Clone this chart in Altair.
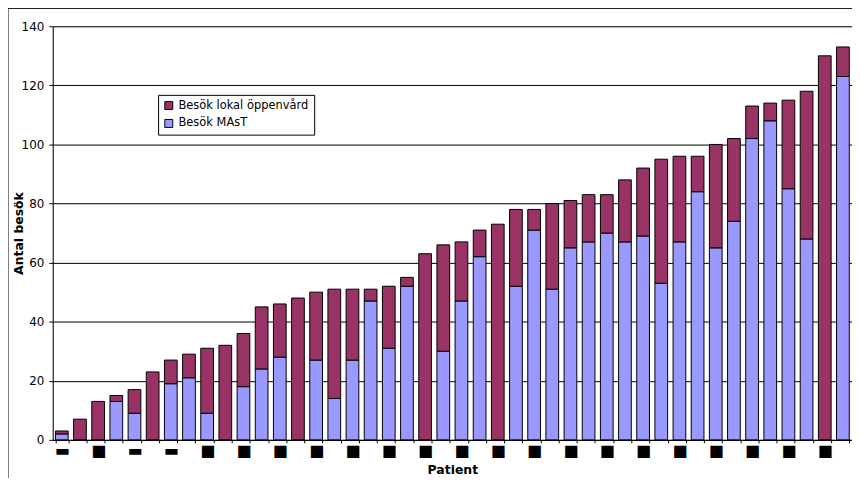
import json
import altair as alt
import pandas as pd

patients = list(range(1, 45))
totals = [3, 7, 13, 15, 17, 23, 27, 29, 31, 32, 36, 45, 46, 48, 50, 51, 51, 51, 52, 55,
          63, 66, 67, 71, 73, 78, 78, 80, 81, 83, 83, 88, 92, 95, 96, 96, 100, 102, 113,
          114, 115, 118, 130, 133]
mast = [2, 0, 0, 13, 9, 0, 19, 21, 9, 0, 18, 24, 28, 0, 27, 14, 27, 47, 31, 52,
        0, 30, 47, 62, 0, 52, 71, 51, 65, 67, 70, 67, 69, 53, 67, 84, 65, 74, 102,
        108, 85, 68, 0, 123]
series_names = ["Besök lokal öppenvård", "Besök MAsT"]
series_colors = ["#993366", "#9999FF"]
# tick labels (redacted blocks) on every other patient
x_labels = ["▬", "", "■", "", "▬", "", "▬", "", "■", "", "■", "", "■", "", "■", "", "■", "",
            "■", "", "■", "", "■", "", "■", "", "■", "", "■", "", "■", "", "■", "", "■", "",
            "■", "", "■", "", "■", "", "■", ""]

rows = []
for p, t, m in zip(patients, totals, mast):
    rows.append({"patient": p, "serie": series_names[1], "value": m, "ord": 0})
    rows.append({"patient": p, "serie": series_names[0], "value": t - m, "ord": 1})
df = pd.DataFrame(rows)

label_expr = json.dumps(x_labels, ensure_ascii=False) + "[datum.value - 1]"

bars = alt.Chart(df).mark_bar(stroke="black", strokeWidth=1).encode(
    x=alt.X("patient:O", sort=patients,
            scale=alt.Scale(paddingInner=0.3, paddingOuter=0.15),
            axis=alt.Axis(title="Patient", labelExpr=label_expr, labelAngle=0,
                          labelFontSize=16, labelPadding=0, tickSize=3,
                          tickBand="extent", domainColor="black", tickColor="black",
                          labelColor="black", titleFontSize=12.5, titleFontWeight="bold",
                          titlePadding=5, grid=False)),
    y=alt.Y("value:Q", stack="zero",
            scale=alt.Scale(domain=[0, 140], nice=False),
            axis=alt.Axis(title="Antal besök", values=[0, 20, 40, 60, 80, 100, 120, 140],
                          tickSize=4, labelPadding=5, labelFontSize=12,
                          titleFontSize=12.5, titleFontWeight="bold",
                          titleX=-34, titleY=208, titleAngle=270,
                          titleAlign="center", titleBaseline="middle",
                          gridColor="black", gridWidth=1, domainColor="black",
                          tickColor="black", labelColor="black")),
    color=alt.Color("serie:N", sort=series_names,
                    scale=alt.Scale(domain=series_names, range=series_colors),
                    legend=alt.Legend(title=None, orient="none", legendX=106, legendY=69,
                                      fillColor="white", strokeColor="black",
                                      padding=5, symbolType="square", symbolSize=64,
                                      symbolStrokeColor="black", symbolStrokeWidth=1,
                                      labelFontSize=11.5, rowPadding=5, labelColor="black",
                                      symbolOffset=0)),
    order=alt.Order("ord:Q"),
)

frame = alt.Chart(alt.Data(values=[{"a": 1}])).mark_rect(
    fillOpacity=0, stroke="black", strokeWidth=1, clip=False
).encode(x=alt.value(-45), x2=alt.value(812), y=alt.value(-18), y2=alt.value(456))

chart = alt.layer(bars, frame).properties(
    width=804, height=416,
    autosize=alt.AutoSizeParams(type="none"),
    padding={"left": 45, "top": 17, "right": 0, "bottom": 37},
).configure_view(fill="#C0C0C0", stroke=None).configure(
    font="DejaVu Sans"
)

chart.save("out.html", embed_options={"renderer": "svg", "actions": False})
